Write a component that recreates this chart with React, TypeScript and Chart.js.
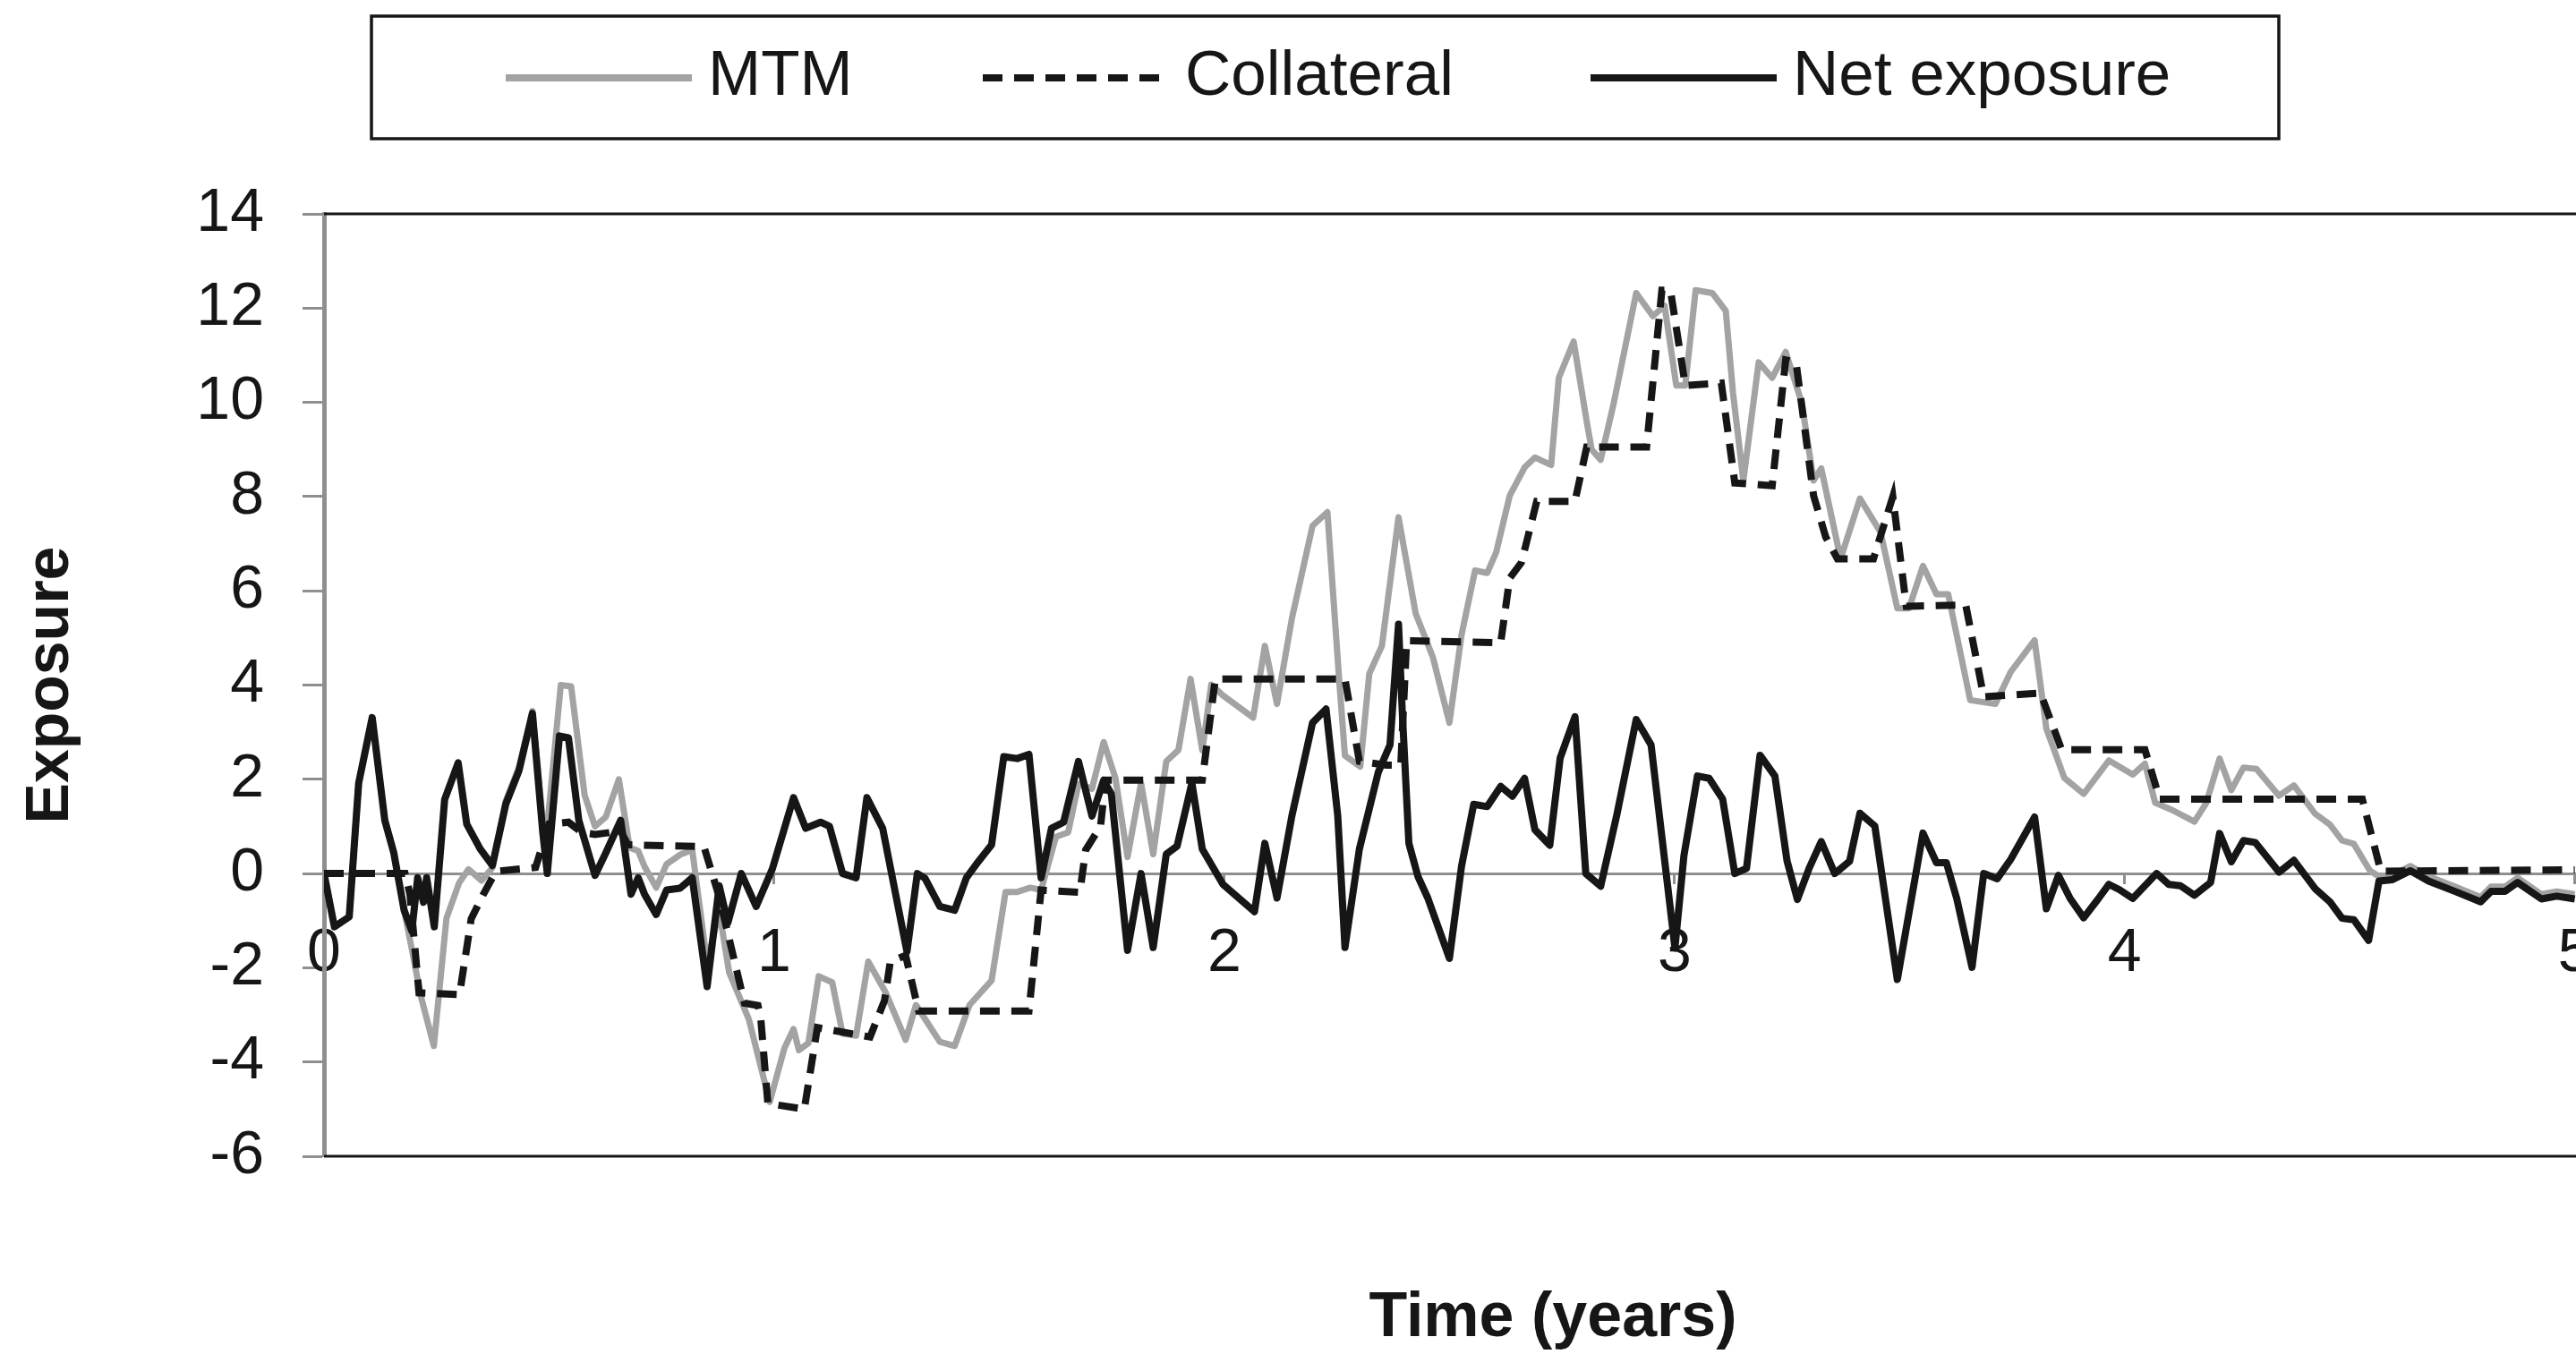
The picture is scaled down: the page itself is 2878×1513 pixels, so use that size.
import React, { useEffect, useRef } from 'react';
import { Chart, registerables } from 'chart.js';

Chart.register(...registerables);

const FONT = '"Liberation Sans", Arial, Helvetica, sans-serif';

// ---- data (time in years, exposure) ----
const seriesNames = ['MTM', 'Collateral', 'Net exposure'];
const xTickValues = [0, 1, 2, 3, 4, 5];
const xAxisMax = 5.46;
const yAxisMin = -6;
const yAxisMax = 14;
const yStep = 2;

const mtmPoints: number[][] = [
  [0, 0], [0.023, -1.13], [0.056, -0.92], [0.077, 1.92], [0.107, 3.31], [0.135, 1.13], [0.155, 0.44],
  [0.178, -0.78], [0.195, -1.6], [0.215, -2.6], [0.244, -3.66], [0.272, -0.95], [0.3, -0.2], [0.321, 0.09],
  [0.35, -0.15], [0.374, 0.12], [0.404, 1.55], [0.433, 2.25], [0.463, 3.45], [0.486, 1.1], [0.496, 1.0],
  [0.526, 4.0], [0.549, 3.97], [0.579, 1.66], [0.602, 1.0], [0.626, 1.2], [0.655, 2.0], [0.679, 0.55],
  [0.698, 0.48], [0.712, 0.15], [0.738, -0.3], [0.761, 0.2], [0.791, 0.4], [0.818, 0.5], [0.851, -1.9],
  [0.878, -0.8], [0.9, -2.1], [0.944, -3.1], [0.99, -4.85], [1.023, -3.7], [1.043, -3.3], [1.055, -3.75],
  [1.076, -3.6], [1.099, -2.18], [1.129, -2.31], [1.152, -3.4], [1.182, -3.44], [1.209, -1.87], [1.248, -2.53],
  [1.292, -3.53], [1.315, -2.79], [1.368, -3.57], [1.401, -3.66], [1.434, -2.79], [1.483, -2.27], [1.514, -0.39],
  [1.54, -0.39], [1.569, -0.3], [1.593, -0.35], [1.626, 0.78], [1.653, 0.87], [1.676, 1.9], [1.706, 1.8],
  [1.732, 2.79], [1.758, 2.03], [1.785, 0.35], [1.815, 1.92], [1.842, 0.41], [1.871, 2.38], [1.898, 2.62],
  [1.925, 4.13], [1.951, 2.62], [1.971, 4.01], [1.997, 3.78], [2.064, 3.31], [2.09, 4.83], [2.117, 3.6],
  [2.15, 5.41], [2.196, 7.38], [2.229, 7.67], [2.255, 4.13], [2.268, 2.5], [2.302, 2.27], [2.322, 4.24],
  [2.35, 4.83], [2.387, 7.56], [2.425, 5.52], [2.463, 4.6], [2.5, 3.2], [2.527, 5.07], [2.557, 6.43],
  [2.584, 6.38], [2.604, 6.82], [2.634, 8.02], [2.667, 8.62], [2.69, 8.83], [2.726, 8.67], [2.743, 10.52],
  [2.776, 11.29], [2.806, 9.54], [2.816, 9.0], [2.836, 8.78], [2.865, 9.98], [2.915, 12.32], [2.952, 11.83],
  [2.978, 12.05], [3.004, 10.36], [3.024, 10.36], [3.047, 12.38], [3.084, 12.32], [3.114, 11.94], [3.13, 10.2],
  [3.153, 8.34], [3.187, 10.85], [3.217, 10.52], [3.247, 11.07], [3.283, 9.98], [3.309, 8.34], [3.326, 8.6],
  [3.369, 6.68], [3.412, 7.96], [3.458, 7.24], [3.495, 5.63], [3.521, 5.63], [3.552, 6.53], [3.582, 5.93],
  [3.608, 5.93], [3.657, 3.68], [3.713, 3.6], [3.747, 4.28], [3.8, 4.95], [3.826, 3.08], [3.866, 2.03],
  [3.909, 1.69], [3.965, 2.4], [4.018, 2.1], [4.045, 2.33], [4.068, 1.5], [4.105, 1.35], [4.155, 1.1],
  [4.181, 1.49], [4.211, 2.44], [4.237, 1.77], [4.264, 2.25], [4.293, 2.22], [4.343, 1.65], [4.376, 1.87],
  [4.423, 1.27], [4.456, 1.04], [4.483, 0.7], [4.509, 0.63], [4.545, 0.06], [4.565, -0.06], [4.595, -0.03],
  [4.635, 0.16], [4.675, -0.06], [4.734, -0.28], [4.791, -0.5], [4.814, -0.28], [4.845, -0.28], [4.873, -0.09],
  [4.926, -0.44], [4.96, -0.38], [5.0, -0.44],
];

const collateralPoints: number[][] = [
  [0, 0], [0.18, 0], [0.191, -0.44], [0.211, -2.53], [0.301, -2.57], [0.327, -0.96], [0.354, -0.44],
  [0.374, -0.09], [0.385, 0.05], [0.47, 0.13], [0.5, 1.05], [0.543, 1.09], [0.573, 0.87], [0.602, 0.83],
  [0.659, 0.9], [0.675, 0.61], [0.844, 0.57], [0.878, -0.5], [0.934, -2.75], [0.964, -2.8], [0.97, -3.05],
  [0.986, -4.88], [1.067, -5.0], [1.096, -3.27], [1.213, -3.47], [1.245, -2.7], [1.258, -1.87], [1.292, -1.74],
  [1.321, -2.92], [1.566, -2.92], [1.593, -0.35], [1.679, -0.4], [1.692, 0.5], [1.725, 1.0], [1.736, 1.98],
  [1.951, 1.98], [1.98, 4.13], [2.268, 4.13], [2.3, 2.38], [2.36, 2.3], [2.392, 2.3], [2.405, 4.94],
  [2.614, 4.9], [2.634, 6.27], [2.66, 6.6], [2.68, 7.36], [2.694, 7.9], [2.779, 7.9], [2.805, 9.05],
  [2.938, 9.05], [2.972, 12.38], [2.991, 12.38], [3.024, 10.36], [3.104, 10.41], [3.134, 8.29], [3.217, 8.23],
  [3.247, 10.9], [3.27, 10.85], [3.309, 8.02], [3.336, 7.14], [3.362, 6.68], [3.442, 6.68], [3.485, 8.0],
  [3.515, 5.67], [3.647, 5.7], [3.687, 3.75], [3.813, 3.83], [3.86, 2.63], [4.045, 2.63], [4.078, 1.58],
  [4.528, 1.58], [4.569, 0.05], [5.0, 0.08],
];

const netPoints: number[][] = [
  [0, 0], [0.023, -1.13], [0.056, -0.92], [0.077, 1.92], [0.107, 3.31], [0.135, 1.13], [0.155, 0.44],
  [0.178, -0.78], [0.195, -1.22], [0.208, -0.09], [0.221, -0.61], [0.228, -0.09], [0.245, -1.13], [0.268, 1.57],
  [0.298, 2.35], [0.317, 1.05], [0.347, 0.52], [0.374, 0.17], [0.404, 1.48], [0.433, 2.18], [0.463, 3.4],
  [0.486, 0.87], [0.496, 0], [0.523, 2.92], [0.543, 2.88], [0.566, 1.13], [0.602, -0.04], [0.626, 0.44],
  [0.659, 1.13], [0.682, -0.44], [0.698, -0.09], [0.712, -0.44], [0.738, -0.87], [0.761, -0.35], [0.791, -0.31],
  [0.818, -0.09], [0.851, -2.4], [0.878, -0.26], [0.897, -1.05], [0.927, 0], [0.96, -0.7], [0.996, 0.1],
  [1.043, 1.61], [1.07, 0.96], [1.103, 1.09], [1.123, 1.0], [1.152, 0], [1.182, -0.09], [1.206, 1.61],
  [1.241, 0.96], [1.268, -0.35], [1.295, -1.66], [1.318, 0], [1.335, -0.1], [1.368, -0.7], [1.401, -0.78],
  [1.427, -0.09], [1.454, 0.26], [1.483, 0.61], [1.51, 2.48], [1.54, 2.44], [1.566, 2.53], [1.593, -0.09],
  [1.616, 0.96], [1.643, 1.09], [1.676, 2.38], [1.706, 1.22], [1.732, 1.98], [1.749, 1.69], [1.785, -1.63],
  [1.815, 0], [1.842, -1.57], [1.871, 0.41], [1.895, 0.58], [1.928, 1.92], [1.951, 0.52], [1.997, -0.23],
  [2.067, -0.81], [2.09, 0.64], [2.117, -0.52], [2.15, 1.22], [2.196, 3.2], [2.226, 3.49], [2.252, 1.22],
  [2.268, -1.57], [2.3, 0.52], [2.342, 2.15], [2.368, 2.73], [2.387, 5.29], [2.395, 3.5], [2.41, 0.64],
  [2.43, -0.06], [2.452, -0.52], [2.5, -1.8], [2.527, 0.16], [2.554, 1.47], [2.584, 1.42], [2.614, 1.85],
  [2.64, 1.64], [2.667, 2.02], [2.69, 0.93], [2.723, 0.6], [2.746, 2.45], [2.779, 3.33], [2.803, 0],
  [2.836, -0.27], [2.872, 1.25], [2.915, 3.27], [2.948, 2.73], [3.001, -1.58], [3.021, 0.38], [3.051, 2.07],
  [3.077, 2.02], [3.107, 1.58], [3.134, 0], [3.16, 0.11], [3.19, 2.51], [3.223, 2.07], [3.25, 0.27],
  [3.273, -0.55], [3.299, 0.11], [3.326, 0.68], [3.356, 0], [3.389, 0.26], [3.412, 1.28], [3.445, 1.01],
  [3.495, -2.25], [3.552, 0.86], [3.582, 0.23], [3.604, 0.23], [3.627, -0.53], [3.661, -1.99], [3.687, 0],
  [3.717, -0.11], [3.747, 0.3], [3.8, 1.2], [3.826, -0.75], [3.853, -0.04], [3.879, -0.53], [3.909, -0.94],
  [3.942, -0.53], [3.965, -0.23], [3.988, -0.34], [4.018, -0.53], [4.071, 0], [4.098, -0.23], [4.124, -0.26],
  [4.155, -0.46], [4.191, -0.19], [4.211, 0.85], [4.237, 0.25], [4.264, 0.7], [4.29, 0.66], [4.343, 0.03],
  [4.376, 0.28], [4.423, -0.32], [4.456, -0.6], [4.483, -0.95], [4.509, -0.98], [4.542, -1.42], [4.565, -0.16],
  [4.595, -0.13], [4.635, 0.06], [4.675, -0.16], [4.734, -0.38], [4.791, -0.6], [4.814, -0.38], [4.845, -0.38],
  [4.873, -0.19], [4.926, -0.54], [4.96, -0.48], [5.0, -0.54],
];

// ---- styles ----
const GRAY = '#a3a3a3';
const BLACK = '#161616';
const AXIS_GRAY = '#8f8f8f';
const DASH = [22, 13];

const CANVAS_W = 3110;
const CANVAS_H = 1513;

const toXY = (pts: number[][]) => pts.map(([x, y]) => ({ x, y }));

export default function App() {
  const ref = useRef<HTMLCanvasElement | null>(null);

  useEffect(() => {
    const canvas = ref.current;
    if (!canvas) return;

    const framePlugin = {
      id: 'frame',
      beforeDatasetsDraw(chart: any) {
        const { ctx, chartArea } = chart;
        const { left, right, top, bottom } = chartArea;
        ctx.save();
        ctx.strokeStyle = BLACK;
        ctx.lineWidth = 3;
        ctx.beginPath();
        ctx.moveTo(left, top);
        ctx.lineTo(right, top);
        ctx.lineTo(right, bottom);
        ctx.lineTo(left, bottom);
        ctx.stroke();
        ctx.restore();
      },
    };

    const decorPlugin = {
      id: 'decor',
      afterDraw(chart: any) {
        const { ctx, chartArea } = chart;
        ctx.save();
        // legend box
        const box = { x: 415, y: 18, w: 2131, h: 137 };
        ctx.strokeStyle = BLACK;
        ctx.lineWidth = 3.5;
        ctx.strokeRect(box.x, box.y, box.w, box.h);
        const items = [
          { lx: 565, color: GRAY, dash: [] as number[], width: 8 },
          { lx: 1098, color: BLACK, dash: DASH, width: 8 },
          { lx: 1777, color: BLACK, dash: [] as number[], width: 8 },
        ];
        const lineLen = 208;
        const ly = 87;
        ctx.font = `71px ${FONT}`;
        ctx.textBaseline = 'middle';
        ctx.textAlign = 'left';
        items.forEach((it, i) => {
          ctx.beginPath();
          ctx.setLineDash(it.dash);
          ctx.strokeStyle = it.color;
          ctx.lineWidth = it.width;
          ctx.moveTo(it.lx, ly);
          ctx.lineTo(it.lx + lineLen, ly);
          ctx.stroke();
          ctx.setLineDash([]);
          ctx.fillStyle = BLACK;
          ctx.fillText(seriesNames[i], it.lx + lineLen + 18, ly - 1);
        });
        // axis titles
        ctx.font = `bold 70px ${FONT}`;
        ctx.textAlign = 'center';
        ctx.textBaseline = 'middle';
        ctx.fillStyle = BLACK;
        ctx.fillText('Time (years)', (chartArea.left + chartArea.right) / 2, 1474);
        ctx.save();
        ctx.translate(57, (chartArea.top + chartArea.bottom) / 2);
        ctx.rotate(-Math.PI / 2);
        ctx.font = `bold 68px ${FONT}`;
        ctx.fillText('Exposure', 0, 0);
        ctx.restore();
        ctx.restore();
      },
    };

    const chart = new Chart(canvas, {
      type: 'line',
      data: {
        datasets: [
          {
            label: seriesNames[2],
            data: toXY(netPoints),
            borderColor: BLACK,
            borderWidth: 8,
            pointRadius: 0,
            tension: 0,
            borderJoinStyle: 'round',
            order: 0,
          },
          {
            label: seriesNames[1],
            data: toXY(collateralPoints),
            borderColor: BLACK,
            borderWidth: 8,
            borderDash: DASH,
            pointRadius: 0,
            tension: 0,
            order: 1,
          },
          {
            label: seriesNames[0],
            data: toXY(mtmPoints),
            borderColor: GRAY,
            borderWidth: 7,
            pointRadius: 0,
            tension: 0,
            borderJoinStyle: 'round',
            order: 2,
          },
        ],
      },
      options: {
        responsive: false,
        maintainAspectRatio: false,
        devicePixelRatio: 1,
        animation: false,
        events: [],
        layout: { padding: { left: 0, top: 239, right: 2, bottom: 221 } },
        plugins: { legend: { display: false }, tooltip: { enabled: false } },
        scales: {
          x: {
            type: 'linear',
            min: 0,
            max: xAxisMax,
            position: { y: 0 } as any,
            afterBuildTicks: (s: any) => {
              s.ticks = xTickValues.map((v) => ({ value: v }));
            },
            ticks: {
              font: { family: FONT, size: 68 },
              color: BLACK,
              padding: 39,
              maxRotation: 0,
              autoSkip: false,
            },
            grid: {
              drawOnChartArea: false,
              drawTicks: true,
              tickLength: 10,
              tickColor: AXIS_GRAY,
              tickWidth: 3,
            },
            border: { display: true, color: AXIS_GRAY, width: 3 },
          },
          y: {
            type: 'linear',
            min: yAxisMin,
            max: yAxisMax,
            afterFit: (s: any) => {
              s.width = 362;
            },
            ticks: {
              stepSize: yStep,
              font: { family: FONT, size: 68 },
              color: BLACK,
              padding: 43,
            },
            grid: {
              drawOnChartArea: false,
              drawTicks: true,
              tickLength: 24,
              tickColor: AXIS_GRAY,
              tickWidth: 3,
            },
            border: { display: true, color: AXIS_GRAY, width: 5 },
          },
        },
      } as any,
      plugins: [framePlugin, decorPlugin],
    });

    return () => chart.destroy();
  }, []);

  return (
    <div
      style={{
        position: 'fixed',
        left: 0,
        top: 0,
        width: 2878,
        height: 1513,
        overflow: 'hidden',
        background: '#ffffff',
      }}
    >
      <canvas ref={ref} width={CANVAS_W} height={CANVAS_H} style={{ display: 'block' }} />
    </div>
  );
}
